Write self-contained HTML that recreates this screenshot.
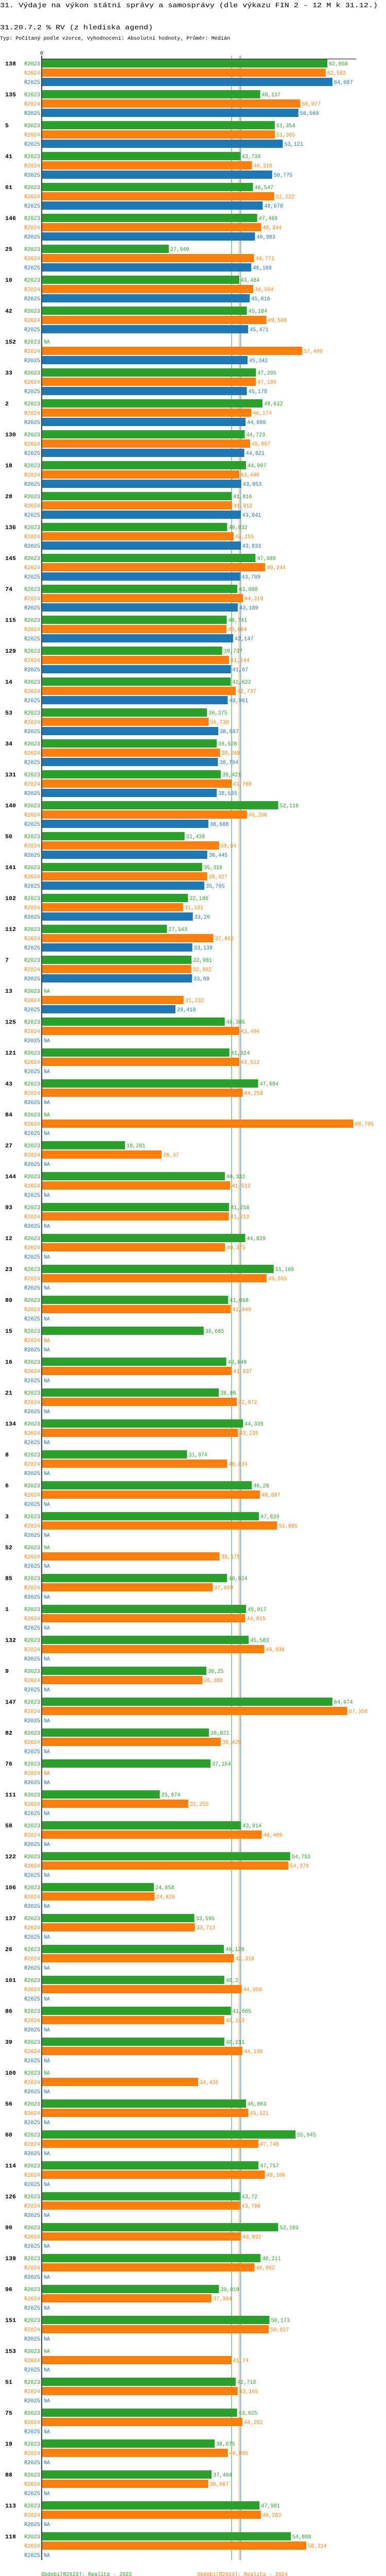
<!DOCTYPE html>
<html><head><meta charset="utf-8">
<style>
html,body{margin:0;padding:0;background:#fff;width:750px;height:5094px;overflow:hidden;}
svg{display:block;}
text{font-family:"Liberation Mono",monospace;}
</style></head>
<body>
<svg id="chart" width="750" height="5094" viewBox="0 0 750 5094" xmlns="http://www.w3.org/2000/svg">
<text x="0" y="14" font-size="13" textLength="734" lengthAdjust="spacingAndGlyphs">31. Výdaje na výkon státní správy a samosprávy (dle výkazu FIN 2 - 12 M k 31.12.)</text>
<text x="0" y="57" font-size="13" textLength="297" lengthAdjust="spacingAndGlyphs">31.20.7.2 % RV (z hlediska agend)</text>
<text x="0" y="77" font-size="10" textLength="447" lengthAdjust="spacingAndGlyphs">Typ: Počítaný podle vzorce, Vyhodnocení: Absolutní hodnoty, Průměr: Medián</text>
<g id="plot"></g>
</svg>
<script>
const categories = ["138","135","5","41","61","146","25","10","42","152","33","2","130","18","28","136","145","74","115","129","14","53","34","131","140","50","141","102","112","7","13","125","121","43","84","27","144","93","12","23","89","15","16","21","134","8","6","3","52","85","1","132","9","147","82","76","111","58","122","106","137","26","101","86","39","100","56","60","114","126","90","139","96","151","153","51","75","19","88","113","118"];
const values2023 = [62.958,48.137,51.354,43.739,46.547,47.469,27.949,43.484,45.184,null,47.205,48.632,44.723,44.997,41.816,40.832,47.089,43.088,40.741,39.737,41.622,36.375,38.528,39.421,52.118,31.438,35.316,32.186,27.543,32.981,null,40.305,41.324,47.684,null,18.281,40.332,41.258,44.829,51.109,41.068,35.665,40.649,38.98,44.339,31.974,46.28,47.839,null,40.824,45.017,45.583,36.25,64.074,36.821,37.164,25.974,43.914,54.753,24.658,33.595,40.128,40.2,41.665,40.211,null,45.003,55.945,47.757,43.72,52.103,48.211,39.019,50.173,null,42.718,43.025,38.075,37.404,47.981,54.888];
const values2024 = [62.582,56.977,51.365,46.318,51.222,48.344,46.771,46.594,49.508,57.409,47.189,46.174,45.907,43.446,41.912,42.255,49.244,44.319,40.684,41.244,42.737,36.738,39.268,41.769,45.206,39.04,36.427,31.101,37.802,32.902,31.232,43.494,43.512,44.258,68.705,26.37,41.512,41.213,40.375,49.555,41.649,null,41.837,42.972,43.235,40.834,48.087,51.885,39.175,37.659,44.815,49.036,35.388,67.356,39.425,null,32.255,48.489,54.379,24.826,33.713,42.318,44.056,40.193,44.198,34.426,45.521,47.748,49.166,43.706,43.892,46.882,37.394,50.027,41.74,43.165,44.202,40.995,36.667,48.283,58.314];
const values2025 = [64.087,56.569,53.121,50.775,48.678,46.983,46.169,45.816,45.471,45.342,45.178,44.886,44.621,43.953,43.841,43.833,43.709,43.189,42.147,41.67,40.961,38.887,38.794,38.535,36.688,36.445,35.795,33.26,33.138,33.09,29.418];
const seriesNames = ["R2023","R2024","R2025"];
const medians = [41.816,43.494,43.833];
const mins = [18.281,24.826,29.418];
const maxs = [64.074,68.705,64.087];
const legendLabels = ["Období[R2023]: Realita - 2023","Období[R2024]: Realita - 2024","Období[R2025]: Realita - 2025"];

const colors = ["#2ca02c","#ff7f0e","#1f77b4"];
const NS = "http://www.w3.org/2000/svg";
const X0 = 82, SCALE = 8.8, TOP = 115, GROUP = 60, ROW = 18, BAR_H = 16;
const xs = v => X0 + v * SCALE;
const fmt = v => String(v).replace('.', ',');
const plot = document.getElementById('plot');
function mk(tag, attrs, parent) {
  const e = document.createElementNS(NS, tag);
  for (const k in attrs) e.setAttribute(k, attrs[k]);
  (parent || plot).appendChild(e);
  return e;
}
const series = [values2023, values2024, values2025];
const bottom = TOP + GROUP * categories.length - 6;

medians.forEach((m, i) => {
  const l = mk('line', {x1: xs(m), x2: xs(m), y1: 108, y2: bottom, stroke: colors[i], 'stroke-width': 1});
  
  
});

categories.forEach((cat, gi) => {
  const gy = TOP + gi * GROUP;
  const cl = mk('text', {x: 10, y: gy + 12, 'font-size': 11, 'font-weight': 'bold', fill: '#000', textLength: cat.length * 7, lengthAdjust: 'spacingAndGlyphs'});
  cl.textContent = cat;
  
  
  series.forEach((arr, si) => {
    const ry = gy + si * ROW;
    const v = arr[gi];
    const sl = mk('text', {x: 78, y: ry + 12, 'font-size': 11, fill: colors[si], 'text-anchor': 'end', textLength: 31, lengthAdjust: 'spacingAndGlyphs'});
    sl.textContent = seriesNames[si];
    
    
    if (v === null || v === undefined) {
      const na = mk('text', {x: 85, y: ry + 12, 'font-size': 11, fill: colors[si], textLength: 12, lengthAdjust: 'spacingAndGlyphs'});
      na.textContent = 'NA';
      
      
    } else {
      const r = mk('rect', {x: X0, y: ry, width: xs(v) - X0, height: BAR_H, fill: colors[si]});
      
      
      const s = fmt(v);
      const vl = mk('text', {x: xs(v) + 3, y: ry + 12, 'font-size': 11, fill: colors[si], textLength: s.length * 6.1, lengthAdjust: 'spacingAndGlyphs'});
      vl.textContent = s;
      
      
    }
  });
});

const ax = mk('line', {x1: 81, x2: 81, y1: 108, y2: bottom, stroke: '#000', 'stroke-width': 1.5});


const tx = mk('line', {x1: 81, x2: 692, y1: 114.5, y2: 114.5, stroke: '#000', 'stroke-width': 1});


const z = mk('text', {x: 81, y: 106, 'font-size': 10, 'text-anchor': 'middle', fill: '#000'});
z.textContent = '0';



const legPos = [[80, 5000], [383, 5000], [80, 5020]];
legendLabels.forEach((t, i) => {
  const e = mk('text', {x: legPos[i][0], y: legPos[i][1], 'font-size': 11, fill: colors[i], textLength: t.length * 6.07, lengthAdjust: 'spacingAndGlyphs'});
  e.textContent = t;
  
  
});
[0, 1, 2].forEach(i => {
  const y = 5040 + i * 20;
  const items = [[80, 'Medián: ' + fmt(medians[i]), 'median'], [333, 'Min: ' + fmt(mins[i]), 'min'], [535, 'Max: ' + fmt(maxs[i]), 'max']];
  items.forEach(([x, t, n]) => {
    const e = mk('text', {x: x, y: y, 'font-size': 11, fill: colors[i], textLength: t.length * 6.07, lengthAdjust: 'spacingAndGlyphs'});
    e.textContent = t;
    
    
  });
});
</script>
</body></html>
